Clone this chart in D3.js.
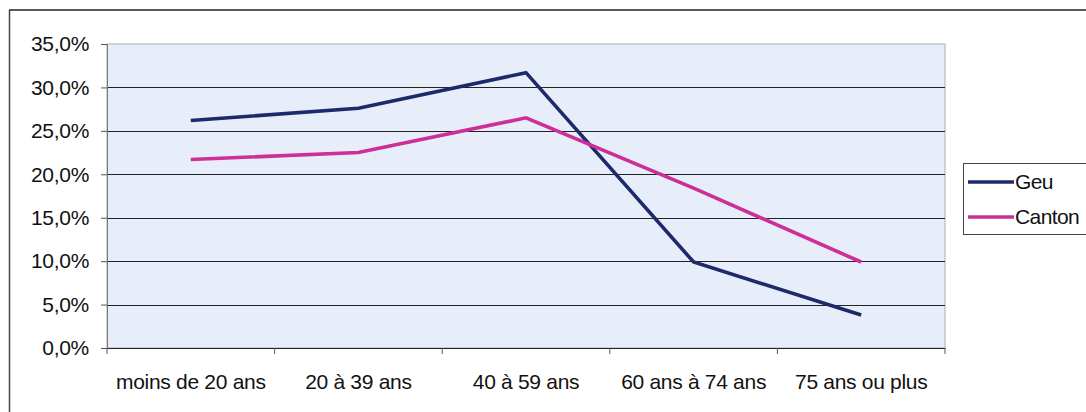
<!DOCTYPE html>
<html>
<head>
<meta charset="utf-8">
<script src="https://cdn.jsdelivr.net/npm/d3@7"></script>
<style>
    body { margin: 0; background: #fff; }
    svg text { font-family: "Liberation Sans", Arial, sans-serif; fill: #111; }
</style>
</head>
<body>
<div id="my_dataviz"><svg></svg></div>
<script>
var categories = ["moins de 20 ans", "20 à 39 ans", "40 à 59 ans", "60 ans à 74 ans", "75 ans ou plus"];
var geuValues = [26.2, 27.6, 31.7, 9.9, 3.8];
var cantonValues = [21.7, 22.5, 26.5, 18.4, 9.9];
var seriesNames = ["Geu", "Canton"];
var yTicks = [0, 5, 10, 15, 20, 25, 30, 35];

var width = 1086, height = 412;
var plot = { left: 107, right: 945, top: 44, bottom: 348 };

var svg = d3.select("#my_dataviz").select("svg")
    .attr("width", width)
    .attr("height", height);

// outer frame (scanned page edges)
svg.append("line").attr("x1", 9).attr("y1", 10).attr("x2", 1086).attr("y2", 10)
    .attr("stroke", "#222").attr("stroke-width", 1.5);
svg.append("line").attr("x1", 9.5).attr("y1", 10).attr("x2", 9.5).attr("y2", 412)
    .attr("stroke", "#444").attr("stroke-width", 1.5);

var xAxis = d3.scaleBand()
    .domain(categories)
    .range([plot.left, plot.right]);

var yAxis = d3.scaleLinear()
    .domain([0, 35])
    .range([plot.bottom, plot.top]);

// plot background
svg.append("rect")
    .attr("x", plot.left).attr("y", plot.top)
    .attr("width", plot.right - plot.left).attr("height", plot.bottom - plot.top)
    .attr("fill", "#e8eef9")
    .attr("stroke", "#a9aeb5").attr("stroke-width", 1);

// gridlines
svg.append("g").selectAll("line")
    .data(yTicks.slice(1, -1))
    .enter()
    .append("line")
    .attr("x1", plot.left).attr("x2", plot.right)
    .attr("y1", function (d) { return Math.round(yAxis(d)) + 0.5; })
    .attr("y2", function (d) { return Math.round(yAxis(d)) + 0.5; })
    .attr("stroke", "#222").attr("stroke-width", 1.2);

// y axis
var gy = svg.append("g")
    .attr("transform", "translate(" + plot.left + ",0)")
    .call(d3.axisLeft(yAxis).tickValues(yTicks).tickSize(6).tickPadding(12)
        .tickFormat(function (d) { return d3.format(".1f")(d).replace(".", ",") + "%"; }));
gy.select(".domain").attr("stroke", "#777");
gy.selectAll(".tick line").attr("stroke", "#555");
gy.selectAll("text").style("font-size", "21px").style("letter-spacing", "-0.3px")
    .attr("fill", "#111");

// x axis
var gx = svg.append("g")
    .attr("transform", "translate(0," + plot.bottom + ")")
    .call(d3.axisBottom(xAxis).tickSize(0).tickPadding(26));
gx.select(".domain").attr("stroke", "#222").attr("stroke-width", 1.2);
gx.selectAll("text").style("font-size", "21px").style("letter-spacing", "-0.3px")
    .attr("fill", "#111");
svg.append("g").selectAll("line")
    .data(categories.concat([null]))
    .enter()
    .append("line")
    .attr("x1", function (d, i) { return plot.left + i * xAxis.step(); })
    .attr("x2", function (d, i) { return plot.left + i * xAxis.step(); })
    .attr("y1", plot.bottom).attr("y2", plot.bottom + 6)
    .attr("stroke", "#555");

// lines
var line = d3.line()
    .x(function (d, i) { return xAxis(categories[i]) + xAxis.bandwidth() / 2; })
    .y(function (d) { return yAxis(d); });

var colors = ["#1c2a6b", "#cc2f98"];
[geuValues, cantonValues].forEach(function (vals, k) {
    svg.append("path")
        .datum(vals)
        .attr("d", line)
        .attr("fill", "none")
        .attr("stroke", colors[k])
        .attr("stroke-width", 3.6)
        .attr("stroke-linejoin", "miter");
});

// legend
var legend = svg.append("g");
legend.append("rect")
    .attr("x", 963.5).attr("y", 163.5).attr("width", 140).attr("height", 71)
    .attr("fill", "#fff").attr("stroke", "#444").attr("stroke-width", 1);
seriesNames.forEach(function (name, k) {
    var ly = 182 + k * 35;
    legend.append("line")
        .attr("x1", 968).attr("x2", 1014).attr("y1", ly).attr("y2", ly)
        .attr("stroke", colors[k]).attr("stroke-width", 3.6);
    legend.append("text")
        .attr("x", 1015).attr("y", ly + 7)
        .style("font-size", "21px").style("letter-spacing", "-0.6px")
        .text(name);
});
</script>
</body>
</html>
